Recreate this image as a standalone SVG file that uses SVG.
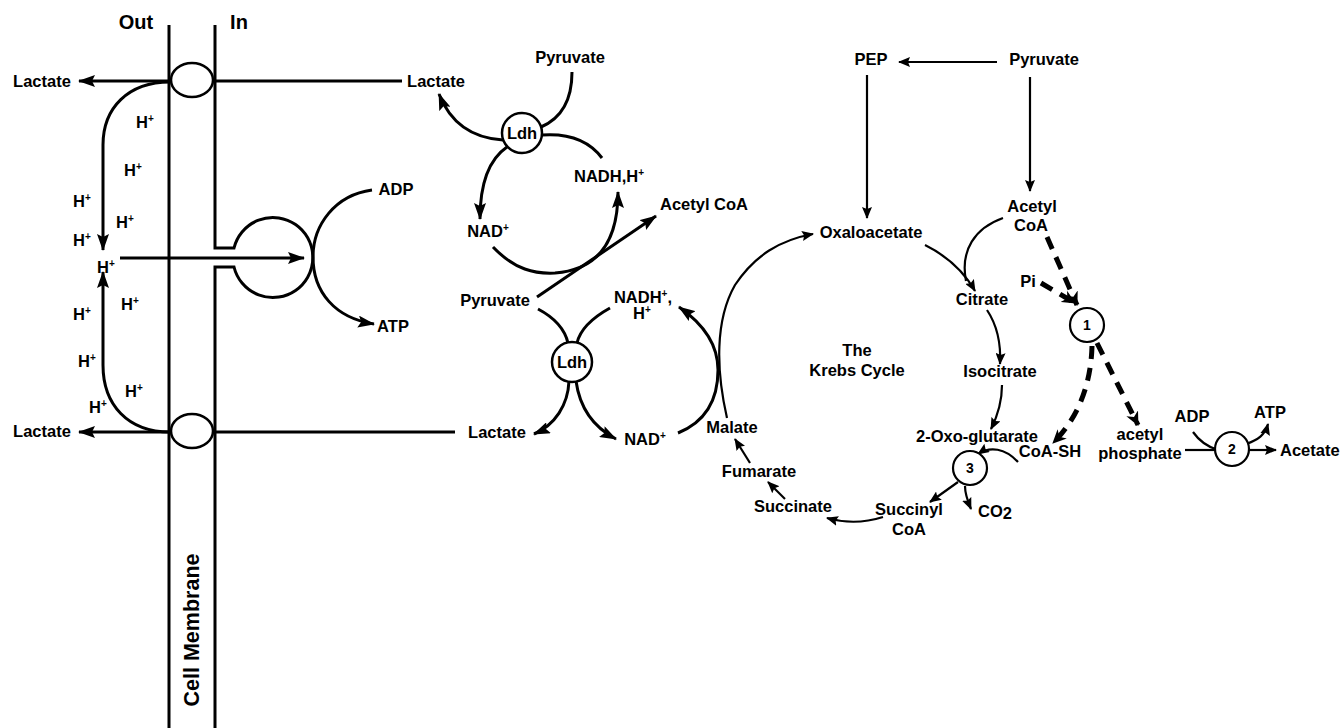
<svg xmlns="http://www.w3.org/2000/svg" width="1342" height="728" viewBox="0 0 1342 728">
<style>
text{font-family:"Liberation Sans",Arial,sans-serif;font-weight:bold;font-size:16.5px;fill:#000;text-anchor:middle}
.s{text-anchor:start}
.big{font-size:20px}
.num{font-size:14px}
.sup{font-size:10px}
.ln{fill:none;stroke:#000;stroke-width:3}
.th{fill:none;stroke:#000;stroke-width:2.2}
.ds{fill:none;stroke:#000;stroke-width:5;stroke-dasharray:13 9}
.node{fill:#fff;stroke:#000;stroke-width:2.5}
</style>
<defs>
<marker id="a" markerWidth="17" markerHeight="12" refX="16" refY="6" orient="auto" markerUnits="userSpaceOnUse"><path d="M0,0 L17,6 L0,12 L3,6 z"/></marker>
<marker id="b" markerWidth="12" markerHeight="10" refX="11" refY="5" orient="auto" markerUnits="userSpaceOnUse"><path d="M0,0 L12,5 L0,10 L2,5 z"/></marker>
<marker id="d" markerWidth="14" markerHeight="13" refX="13" refY="6.5" orient="auto" markerUnits="userSpaceOnUse"><path d="M0,0 L14,6.5 L0,13 L4,6.5 z"/></marker>
</defs>

<g id="membrane">
<line x1="169" y1="25" x2="169" y2="728" class="ln"/>
<path d="M215,25 V248 H234 A40,40 0 1 1 234,267 H215 V728" class="ln"/>
<text x="136" y="29" class="big">Out</text>
<text x="239" y="29" class="big">In</text>
<text transform="translate(199,630) rotate(-90)" style="font-size:21.5px">Cell Membrane</text>
</g>

<g id="connectors">
<path d="M170,81 L79,81" class="ln" marker-end="url(#a)"/>
<path d="M213,81 L402,81" class="ln"/>
<path d="M170,432 L79,432" class="ln" marker-end="url(#a)"/>
<path d="M213,432 L455,432" class="ln"/>
<path d="M170,82 C128,82 103,108 103,145 L103,250" class="ln" marker-end="url(#a)"/>
<path d="M170,432 C128,432 103,405 103,365 L103,272" class="ln" marker-end="url(#a)"/>
<path d="M120,258 L304,258" class="ln" marker-end="url(#a)"/>
<path d="M372,190 C335,195 313,225 313,257 C313,292 335,318 374,324" class="ln" marker-end="url(#a)"/>

<path d="M572,72 C572,100 562,118 541,127" class="ln"/>
<path d="M503,140 C470,138 450,122 439,94" class="ln" marker-end="url(#a)"/>
<path d="M542,135 C570,133 590,142 602,158" class="ln"/>
<path d="M507,147 C488,160 480,185 480,219" class="ln" marker-end="url(#a)"/>
<path d="M493,247 C515,270 535,274 555,273 C595,270 618,245 618,192" class="ln" marker-end="url(#a)"/>
<path d="M537,297 L656,216" class="ln" marker-end="url(#a)"/>

<path d="M538,309 C555,318 565,330 568,343" class="ln"/>
<path d="M610,308 C592,318 580,330 577,343" class="ln"/>
<path d="M569,381 C568,405 555,425 534,434" class="ln" marker-end="url(#a)"/>
<path d="M576,381 C580,410 595,428 616,439" class="ln" marker-end="url(#a)"/>
<path d="M678,433 C705,422 718,400 718,370 C718,345 705,325 679,307" class="ln" marker-end="url(#a)"/>

<path d="M727,418 C716,370 715,320 735,285 C755,255 780,240 813,234" class="th" marker-end="url(#b)"/>
<path d="M997,62 L899,62" class="th" marker-end="url(#b)"/>
<path d="M867,75 L867,218" class="th" marker-end="url(#b)"/>
<path d="M1030,77 L1030,191" class="th" marker-end="url(#b)"/>
<path d="M925,245 C945,255 963,270 975,291" class="th" marker-end="url(#b)"/>
<path d="M1003,218 C975,228 960,250 966,281" class="th"/>
<path d="M987,310 C997,325 1001,345 1000,364" class="th" marker-end="url(#b)"/>
<path d="M1002,385 C1002,400 998,415 991,429" class="th" marker-end="url(#b)"/>
<path d="M1018,462 C1005,448 990,446 978,454" class="th" marker-end="url(#b)"/>
<path d="M958,482 L930,502" class="th" marker-end="url(#b)"/>
<path d="M965,486 C965,495 968,502 971,509" class="th" marker-end="url(#b)"/>
<path d="M883,517 Q855,526 827,518" class="th" marker-end="url(#b)"/>
<path d="M785,499 L768,482" class="th" marker-end="url(#b)"/>
<path d="M750,463 L735,439" class="th" marker-end="url(#b)"/>

<path d="M1047,237 L1077,305" class="ds" marker-end="url(#d)"/>
<path d="M1041,283 L1075,303" class="ds" marker-end="url(#d)"/>
<path d="M1092,346 C1091,385 1078,418 1053,443" class="ds" marker-end="url(#d)"/>
<path d="M1097,343 L1138,425" class="ds" marker-end="url(#d)"/>

<path d="M1185,450 L1215,450" class="th"/>
<path d="M1193,432 C1200,442 1208,447 1218,450" class="th"/>
<path d="M1246,444 C1258,440 1265,435 1268,424" class="th" marker-end="url(#b)"/>
<path d="M1249,450 L1276,450" class="th" marker-end="url(#b)"/>
</g>

<g id="transporter-top"><ellipse cx="192" cy="80" rx="21" ry="17" class="node"/></g>
<g id="transporter-bottom"><ellipse cx="192" cy="431" rx="21" ry="17" class="node"/></g>

<g id="protons">
<text x="145" y="128">H<tspan class="sup" dy="-6">+</tspan></text>
<text x="133" y="176">H<tspan class="sup" dy="-6">+</tspan></text>
<text x="82" y="207">H<tspan class="sup" dy="-6">+</tspan></text>
<text x="125" y="228">H<tspan class="sup" dy="-6">+</tspan></text>
<text x="82" y="246">H<tspan class="sup" dy="-6">+</tspan></text>
<text x="106" y="273">H<tspan class="sup" dy="-6">+</tspan></text>
<text x="130" y="310">H<tspan class="sup" dy="-6">+</tspan></text>
<text x="82" y="320">H<tspan class="sup" dy="-6">+</tspan></text>
<text x="87" y="367">H<tspan class="sup" dy="-6">+</tspan></text>
<text x="134" y="397">H<tspan class="sup" dy="-6">+</tspan></text>
<text x="98" y="413">H<tspan class="sup" dy="-6">+</tspan></text>
</g>

<g id="labels-left">
<text x="42" y="87">Lactate</text>
<text x="42" y="437">Lactate</text>
<text x="436" y="87">Lactate</text>
<text x="396" y="195">ADP</text>
<text x="393" y="332">ATP</text>
</g>

<g id="ldh-top">
<circle cx="522" cy="133" r="20" class="node"/>
<text x="522" y="139">Ldh</text>
<text x="570" y="63">Pyruvate</text>
<text x="609" y="182">NADH,H<tspan class="sup" dy="-6">+</tspan></text>
<text x="488" y="237">NAD<tspan class="sup" dy="-6">+</tspan></text>
<text x="704" y="210">Acetyl CoA</text>
</g>

<g id="ldh-bottom">
<circle cx="572" cy="362" r="20" class="node"/>
<text x="572" y="368">Ldh</text>
<text x="495" y="306">Pyruvate</text>
<text x="643" y="303">NADH<tspan class="sup" dy="-6">+</tspan><tspan dy="6">,</tspan></text>
<text x="642" y="319">H<tspan class="sup" dy="-6">+</tspan></text>
<text x="497" y="438">Lactate</text>
<text x="645" y="445">NAD<tspan class="sup" dy="-6">+</tspan></text>
</g>

<g id="krebs">
<text x="871" y="65">PEP</text>
<text x="1044" y="65">Pyruvate</text>
<text x="871" y="238">Oxaloacetate</text>
<text x="1032" y="212">Acetyl</text>
<text x="1031" y="231">CoA</text>
<text x="982" y="305">Citrate</text>
<text x="1000" y="377">Isocitrate</text>
<text x="977" y="442">2-Oxo-glutarate</text>
<text x="857" y="356">The</text>
<text x="857" y="376">Krebs Cycle</text>
<text x="1050" y="457">CoA-SH</text>
<text x="909" y="515">Succinyl</text>
<text x="909" y="535">CoA</text>
<text x="995" y="517">CO<tspan dy="2">2</tspan></text>
<text x="793" y="512">Succinate</text>
<text x="759" y="477">Fumarate</text>
<text x="732" y="433">Malate</text>
<text x="1028" y="287">Pi</text>
<text x="1140" y="440">acetyl</text>
<text x="1140" y="459">phosphate</text>
<text x="1192" y="422">ADP</text>
<text x="1270" y="418">ATP</text>
<text x="1280" y="456" class="s">Acetate</text>
</g>

<g id="enzyme-1"><circle cx="1087" cy="325" r="17" class="node" style="stroke-width:2.2"/><text x="1087" y="330" class="num">1</text></g>
<g id="enzyme-2"><circle cx="1232" cy="449" r="17" class="node" style="stroke-width:2.2"/><text x="1232" y="454" class="num">2</text></g>
<g id="enzyme-3"><circle cx="970" cy="468" r="17" class="node" style="stroke-width:2.2"/><text x="970" y="473" class="num">3</text></g>
</svg>
